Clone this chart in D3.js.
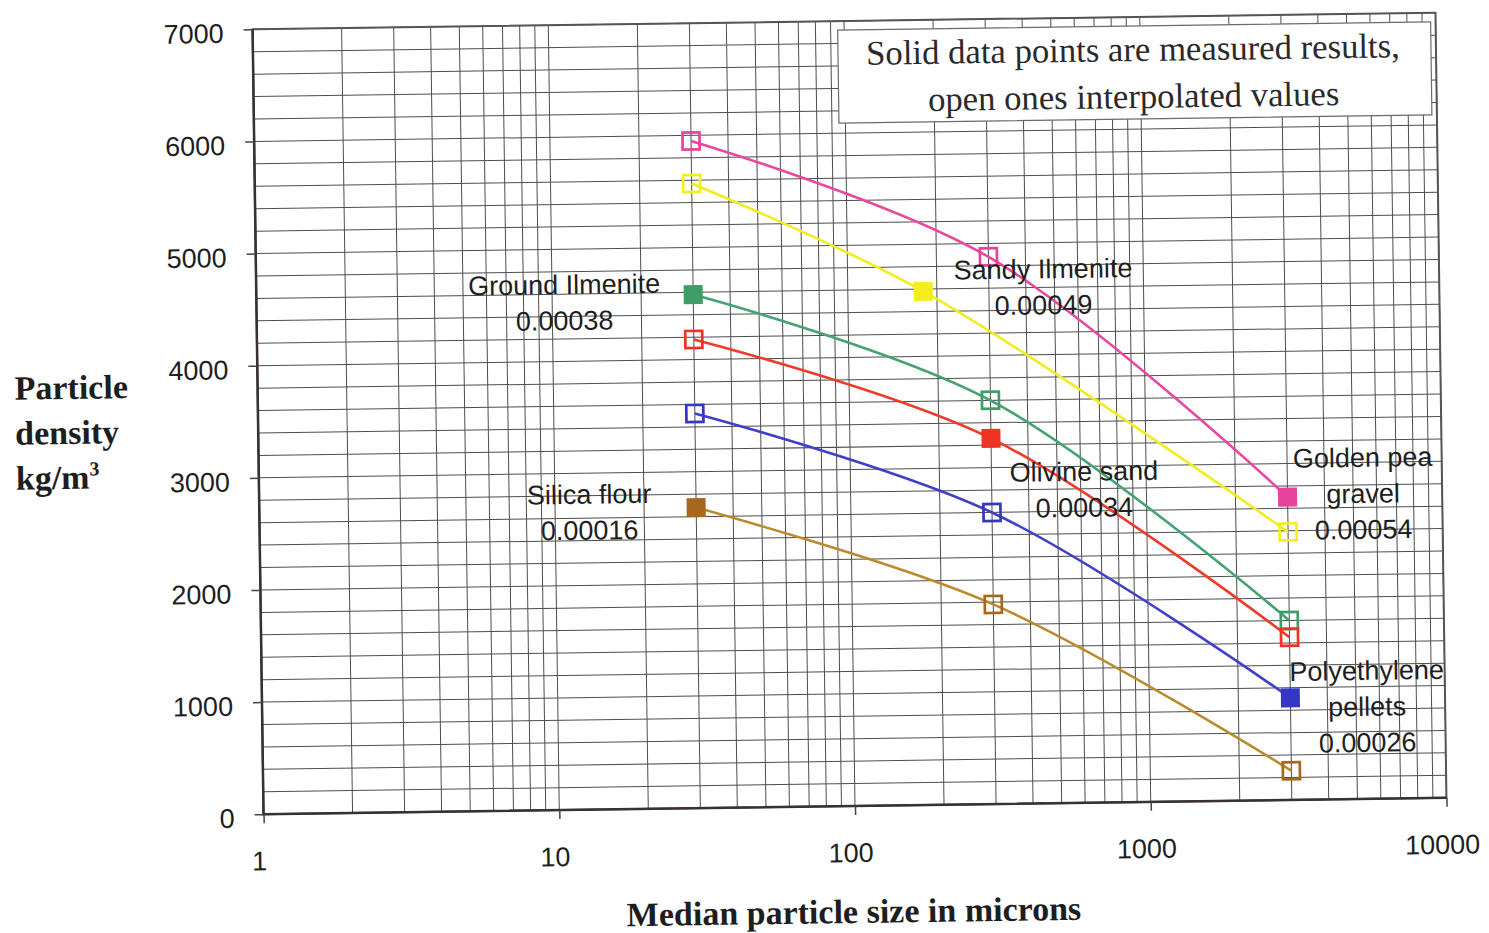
<!DOCTYPE html>
<html>
<head>
<meta charset="utf-8">
<script src="https://cdn.jsdelivr.net/npm/d3@7"></script>
<style>
  body { margin: 0; background: #fff; }
  svg { display: block; }
</style>
</head>
<body>
<svg width="1489" height="933"></svg>
<script>
// particle sizes in microns
const sizes = [30, 300, 3000];
const sandySizes = [30, 180, 3000];

// particle density kg/m3
const goldenPea = [5950, 4880, 2700];
const sandyIlmenite = [5570, 4580, 2390];
const groundIlmenite = [4580, 3600, 1600];
const olivineSand = [4180, 3260, 1450];
const polyethylene = [3520, 2600, 910];
const silicaFlour = [2680, 1780, 260];

// which point of each series was measured (solid marker)
const measuredAt = [2, 1, 0, 1, 2, 0];

const xTickValues = [1, 10, 100, 1000, 10000];
const yTickValues = [0, 1000, 2000, 3000, 4000, 5000, 6000, 7000];

const seriesColors = ['#e8439c', '#f3ee1c', '#3f9d66', '#ee3427', '#3636c4', '#a9661f'];
const lineColors = ['#e8489e', '#f2ec22', '#45a272', '#ef3a2a', '#3f3fc8', '#bb8a2c'];

let svg = d3.select('svg'),
    width = + svg.attr('width'),
    height = + svg.attr('height');

let plotLeft = 258, plotRight = 1441, plotTop = 21, plotBottom = 806;

let x = d3.scaleLog().domain([1, 10000]).range([plotLeft, plotRight]);
let y = d3.scaleLinear().domain([0, 7000]).range([plotBottom, plotTop]);

let series = [
  {name: 'Golden pea gravel', xs: sizes, ys: goldenPea},
  {name: 'Sandy Ilmenite', xs: sandySizes, ys: sandyIlmenite},
  {name: 'Ground Ilmenite', xs: sizes, ys: groundIlmenite},
  {name: 'Olivine sand', xs: sizes, ys: olivineSand},
  {name: 'Polyethylene pellets', xs: sizes, ys: polyethylene},
  {name: 'Silica flour', xs: sizes, ys: silicaFlour}
].map(function(s, i) {
  s.color = seriesColors[i];
  s.lineColor = lineColors[i];
  s.points = s.xs.map(function(v, j) {
    return {x: v, y: s.ys[j], solid: j === measuredAt[i], color: seriesColors[i]};
  });
  return s;
});

// the scanned page sits slightly tilted
let g = svg.append('g').attr('transform', 'rotate(-0.8, 850, 413)');

// grid
let grid = g.append('g').attr('stroke', '#4d4d4d').attr('stroke-width', 1);
grid.selectAll('.vgrid')
  .data(x.ticks())
  .enter().append('line')
    .attr('x1', function(d) { return x(d); })
    .attr('x2', function(d) { return x(d); })
    .attr('y1', plotTop)
    .attr('y2', plotBottom);
grid.selectAll('.hgrid')
  .data(y.ticks(35))
  .enter().append('line')
    .attr('x1', plotLeft)
    .attr('x2', plotRight)
    .attr('y1', function(d) { return y(d); })
    .attr('y2', function(d) { return y(d); });

// note box
let note = g.append('g');
note.append('rect')
  .attr('x', 843).attr('y', 30)
  .attr('width', 593).attr('height', 93)
  .attr('fill', '#fff')
  .attr('stroke', '#6a6a6a')
  .attr('stroke-width', 1.2);
note.selectAll('text')
  .data(['Solid data points are measured results,', 'open ones interpolated values'])
  .enter().append('text')
    .attr('x', 1138)
    .attr('y', function(d, i) { return 65 + i * 47; })
    .attr('text-anchor', 'middle')
    .attr('font-family', '"Liberation Serif", "Times New Roman", serif')
    .attr('font-size', '34.7px')
    .attr('fill', '#2a2a2a')
    .text(function(d) { return d; });

// frame
g.append('rect')
  .attr('x', plotLeft).attr('y', plotTop)
  .attr('width', plotRight - plotLeft).attr('height', plotBottom - plotTop)
  .attr('fill', 'none')
  .attr('stroke', '#555')
  .attr('stroke-width', 2);
g.append('path')
  .attr('d', 'M' + plotLeft + ',' + plotTop + 'V' + plotBottom + 'H' + plotRight)
  .attr('fill', 'none')
  .attr('stroke', '#3a3030')
  .attr('stroke-width', 2.5);

// axes
let xAxis = g.append('g')
  .attr('transform', 'translate(0,' + plotBottom + ')')
  .call(d3.axisBottom(x).tickValues(xTickValues).tickFormat(d3.format('d')).tickSize(9).tickPadding(28));
let yAxis = g.append('g')
  .attr('transform', 'translate(' + plotLeft + ',0)')
  .call(d3.axisLeft(y).tickValues(yTickValues).tickFormat(d3.format('d')).tickSize(9).tickPadding(20));

[xAxis, yAxis].forEach(function(a) {
  a.select('.domain').remove();
  a.selectAll('line').attr('stroke', '#444').attr('stroke-width', 1.5);
  a.selectAll('text')
    .attr('font-family', '"Liberation Sans", Arial, sans-serif')
    .attr('font-size', '27px')
    .attr('fill', '#1e1e1e');
});
yAxis.selectAll('text').attr('dy', '0.47em');
xAxis.selectAll('text').attr('dx', -5);

// lines and markers
let line = d3.line()
  .x(function(d) { return x(d.x); })
  .y(function(d) { return y(d.y); })
  .curve(d3.curveCatmullRom);

let plot = g.append('g');
plot.selectAll('.series-line')
  .data(series)
  .enter().append('path')
    .attr('class', 'series-line')
    .attr('d', function(d) { return line(d.points); })
    .attr('fill', 'none')
    .attr('stroke', function(d) { return d.lineColor; })
    .attr('stroke-width', 2.6);

let markers = plot.selectAll('.markers')
  .data(series)
  .enter().append('g');
markers.selectAll('rect')
  .data(function(d) { return d.points; })
  .enter().append('rect')
    .attr('x', function(d) { return x(d.x) - (d.solid ? 9.5 : 8.5); })
    .attr('y', function(d) { return y(d.y) - (d.solid ? 9.5 : 8.5); })
    .attr('width', function(d) { return d.solid ? 19 : 17; })
    .attr('height', function(d) { return d.solid ? 19 : 17; })
    .attr('fill', function(d) { return d.solid ? d.color : 'none'; })
    .attr('stroke', function(d) { return d.solid ? 'none' : d.color; })
    .attr('stroke-width', 2.7);

// material labels with drag coefficients
let labels = [
  {lines: ['Ground Ilmenite', '0.00038'], x: 566, y: 290},
  {lines: ['Sandy Ilmenite', '0.00049'], x: 1045, y: 281},
  {lines: ['Silica flour', '0.00016'], x: 588, y: 500},
  {lines: ['Olivine sand', '0.00034'], x: 1083, y: 484},
  {lines: ['Golden pea', 'gravel', '0.00054'], x: 1362, y: 474},
  {lines: ['Polyethylene', 'pellets', '0.00026'], x: 1363, y: 687}
];
let lab = g.append('g')
  .attr('font-family', '"Liberation Sans", Arial, sans-serif')
  .attr('font-size', '27px')
  .attr('fill', '#1e1e1e')
  .attr('text-anchor', 'middle');
labels.forEach(function(l) {
  lab.selectAll(null)
    .data(l.lines)
    .enter().append('text')
      .attr('x', l.x)
      .attr('y', function(d, i) { return l.y + i * 36; })
      .text(function(d) { return d; });
});

// axis titles
let serif = '"Liberation Serif", "Times New Roman", serif';
g.append('text')
  .attr('x', 847).attr('y', 923)
  .attr('text-anchor', 'middle')
  .attr('font-family', serif)
  .attr('font-weight', 'bold')
  .attr('font-size', '34px')
  .attr('fill', '#1e1e1e')
  .text('Median particle size in microns');

let yTitle = g.append('text')
  .attr('font-family', serif)
  .attr('font-weight', 'bold')
  .attr('font-size', '34px')
  .attr('fill', '#1e1e1e');
yTitle.append('tspan').attr('x', 15).attr('y', 388).text('Particle');
yTitle.append('tspan').attr('x', 15).attr('y', 433).text('density');
yTitle.append('tspan').attr('x', 15).attr('y', 478).text('kg/m');
yTitle.append('tspan').attr('dy', -13).attr('font-size', '20px').text('3');
</script>
</body>
</html>
